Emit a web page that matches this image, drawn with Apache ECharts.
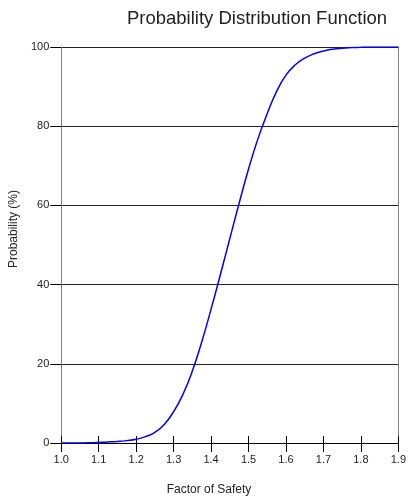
<!DOCTYPE html>
<html>
<head>
<meta charset="utf-8">
<script src="https://cdn.jsdelivr.net/npm/echarts@6/dist/echarts.min.js"></script>
<style>
html,body{margin:0;padding:0;background:#fff;}
#main{width:409px;height:497px;}
</style>
</head>
<body>
<div id="main"></div>
<script>
'use strict';
// 读图得到的数据点（安全系数 / 概率%）
var fosValues = [1.000, 1.025, 1.050, 1.075, 1.100, 1.125, 1.150, 1.175, 1.200, 1.225,
	1.250, 1.275, 1.300, 1.325, 1.350, 1.375, 1.400, 1.425, 1.450, 1.475,
	1.500, 1.525, 1.550, 1.575, 1.600, 1.625, 1.650, 1.675, 1.700, 1.725,
	1.750, 1.775, 1.800, 1.825, 1.850, 1.875, 1.900];
var probValues = [0, 0, 0.02, 0.07, 0.15, 0.25, 0.38, 0.6, 0.95, 1.6,
	2.7, 4.7, 7.9, 12.3, 18.2, 25.5, 33.8, 42.6, 51.6, 60.6,
	69.2, 76.8, 83.2, 88.8, 92.9, 95.5, 97.2, 98.3, 99.0, 99.45,
	99.7, 99.85, 99.95, 100, 100, 100, 100];
var yTicks = [0, 20, 40, 60, 80, 100];
var xTicks = ['1.0', '1.1', '1.2', '1.3', '1.4', '1.5', '1.6', '1.7', '1.8', '1.9'];

var curveData = [];
for (var i = 0; i < fosValues.length; i++) {
	curveData.push([fosValues[i], probValues[i]]);
}

var font = 'Liberation Sans, Arial, sans-serif';
var chart = echarts.init(document.getElementById('main'));
var option = {
	animation: false,
	title: [
		{
			text: 'Probability Distribution Function',
			left: 252,
			top: 4,
			textAlign: 'center',
			textStyle: {fontSize: 18.5, fontWeight: 'normal', color: '#222', fontFamily: font}
		},
		{
			text: 'Factor of Safety',
			left: 204,
			top: 479,
			textAlign: 'center',
			textStyle: {fontSize: 12, fontWeight: 'normal', color: '#222', fontFamily: font}
		}
	],
	grid: {left: 59, right: 9, top: 47, bottom: 54},
	xAxis: [
		{
			type: 'value',
			min: 1.0,
			max: 1.9,
			interval: 0.1,
			position: 'bottom',
			axisLine: {lineStyle: {color: '#000', width: 1}},
			axisTick: {show: true, length: 9, lineStyle: {color: '#000'}},
			axisLabel: {
				margin: 11,
				fontSize: 11,
				color: '#222',
				fontFamily: font,
				formatter: function (v) {
					return xTicks[Math.round((v - 1.0) * 10)];
				}
			},
			splitLine: {show: false},
			z: 5
		},
		{
			type: 'value',
			min: 1.0,
			max: 1.9,
			interval: 0.1,
			position: 'bottom',
			axisLine: {show: false},
			axisTick: {show: true, inside: true, length: 7, lineStyle: {color: '#000'}},
			axisLabel: {show: false},
			splitLine: {show: false}
		}
	],
	yAxis: [
		{
			type: 'value',
			min: 0,
			max: 100,
			interval: 20,
			position: 'left',
			name: 'Probability (%)',
			nameLocation: 'middle',
			nameGap: 39,
			nameTextStyle: {fontSize: 12, color: '#222', fontFamily: font, padding: [0, 0, 0, 32]},
			axisLine: {show: true, lineStyle: {color: '#808080'}},
			axisTick: {show: true, length: 11, lineStyle: {color: '#000'}},
			axisLabel: {
				margin: 12,
				fontSize: 11,
				color: '#222',
				fontFamily: font,
				formatter: function (v) {
					return String(yTicks[Math.round(v / 20)]);
				}
			},
			splitLine: {show: true, lineStyle: {color: '#222', width: 1}}
		},
		{
			type: 'value',
			min: 0,
			max: 100,
			interval: 20,
			position: 'right',
			axisLine: {show: true, lineStyle: {color: '#808080'}},
			axisTick: {show: false},
			axisLabel: {show: false},
			splitLine: {show: false}
		}
	],
	series: [
		{
			name: 'PDF',
			type: 'line',
			data: curveData,
			smooth: 0.5,
			showSymbol: false,
			symbol: 'none',
			lineStyle: {color: '#0000ff', width: 1.5},
			z: 10
		}
	]
};
chart.setOption(option);
</script>
</body>
</html>
